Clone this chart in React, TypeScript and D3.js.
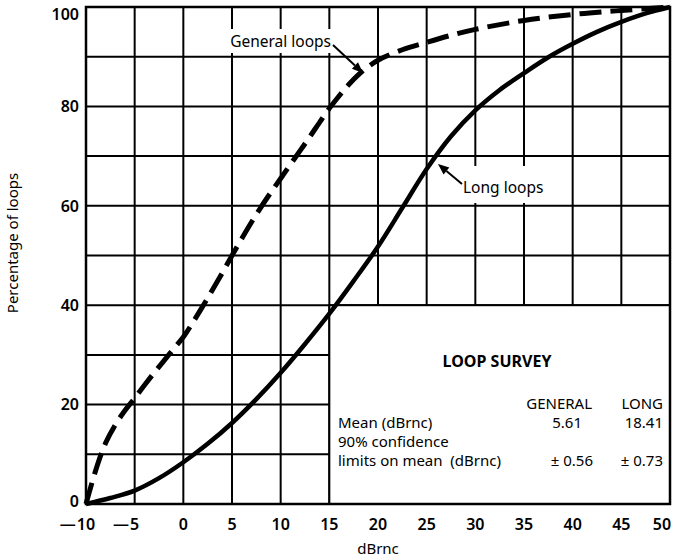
import React from "react";
import * as d3 from "d3";

// ---- data ----
const xTicks = [-10, -5, 0, 5, 10, 15, 20, 25, 30, 35, 40, 45, 50];
const xTickLabels = ["10", "5", "0", "5", "10", "15", "20", "25", "30", "35", "40", "45", "50"];
const xTickNegative = [true, true, false, false, false, false, false, false, false, false, false, false, false];
const yTicks = [0, 20, 40, 60, 80, 100];
const yGridValues = [10, 20, 30, 40, 50, 60, 70, 80, 90];
const xGridValues = [-5, 0, 5, 10, 15, 20, 25, 30, 35, 40, 45];

const generalX = [-10, -9, -8, -7, -6, -5, -4, -3, -2, -1, 0, 1, 2, 3, 4, 5, 6, 7, 8, 9, 10, 11, 12, 13, 14, 15, 16, 17, 18, 19, 20, 22.5, 25, 27.5, 30, 35, 40, 45, 50];
const generalY = [0, 6.8, 12.2, 15.9, 18.8, 21.3, 23.9, 26.4, 28.8, 31.2, 33.6, 36.6, 39.8, 43.1, 46.5, 50, 53.4, 56.7, 59.8, 62.7, 65.5, 68.3, 71.1, 73.9, 76.8, 79.6, 82.1, 84.4, 86.4, 88, 89.3, 91.4, 92.9, 94.3, 95.5, 97.3, 98.5, 99.3, 100];

const longX = [-10, -7.5, -5, -2.5, 0, 2.5, 5, 7.5, 10, 12.5, 15, 17.5, 20, 22.5, 25, 27.5, 30, 32.5, 35, 37.5, 40, 42.5, 45, 47.5, 50];
const longY = [0, 1.2, 2.7, 5.2, 8.4, 12.1, 16.3, 21.1, 26.4, 32.2, 38.3, 44.9, 51.8, 59.6, 67.4, 74.0, 79.2, 83.3, 86.7, 89.9, 92.6, 95, 97, 98.7, 100];

const surveyTitle = "LOOP SURVEY";
const surveyHeaders = ["GENERAL", "LONG"];
const rowLabels = ["Mean (dBrnc)", "90% confidence", "limits on mean\u00A0 (dBrnc)"];
const meanValues = ["5.61", "18.41"];
const confValues = ["\u00B1 0.56", "\u00B1 0.73"];

const FONT = "'Noto Sans', 'Open Sans', sans-serif";

export default function App() {
  const W = 679, H = 560;
  const x = d3.scaleLinear().domain([-10, 50]).range([86, 670]);
  const y = d3.scaleLinear().domain([0, 100]).range([504, 7]);

  const line = d3
    .line<[number, number]>()
    .x((d) => x(d[0]))
    .y((d) => y(d[1]))
    .curve(d3.curveCatmullRom.alpha(0.5));

  const generalPts = generalX.map((v, i) => [v, generalY[i]] as [number, number]);
  const longPts = longX.map((v, i) => [v, longY[i]] as [number, number]);

  const arrow = (x0: number, y0: number, x1: number, y1: number) => {
    const dx = x1 - x0, dy = y1 - y0;
    const len = Math.hypot(dx, dy);
    const ux = dx / len, uy = dy / len;
    const hl = 11, hw = 4.5;
    const bx = x1 - ux * hl, by = y1 - uy * hl;
    const px = -uy, py = ux;
    return {
      shaft: `M${x0},${y0}L${bx},${by}`,
      head: `M${x1},${y1}L${bx + px * hw},${by + py * hw}L${bx - px * hw},${by - py * hw}Z`,
    };
  };
  const genArrow = arrow(333, 45, 363, 73);
  const longArrow = arrow(462, 184, 438, 164);

  const boxX0 = x(15), boxX1 = x(50), boxY0 = y(40), boxY1 = y(0);
  const textSize = 15;

  return (
    <svg
      width={W}
      height={H}
      style={{ position: "absolute", left: 0, top: 0, background: "#fff" }}
      fontFamily={FONT}
    >
      <rect x={0} y={0} width={W} height={H} fill="#fff" />
      {/* grid */}
      {xGridValues.map((v) => (
        <line key={"vx" + v} x1={x(v)} x2={x(v)} y1={y(0)} y2={y(100)} stroke="#000" strokeWidth={2} />
      ))}
      {yGridValues.map((v) => (
        <line key={"hy" + v} x1={x(-10)} x2={x(50)} y1={y(v)} y2={y(v)} stroke="#000" strokeWidth={2} />
      ))}
      {/* survey box */}
      <rect x={boxX0} y={boxY0} width={boxX1 - boxX0} height={boxY1 - boxY0} fill="#fff" stroke="#000" strokeWidth={2} />
      {/* frame */}
      <rect x={x(-10)} y={y(100)} width={x(50) - x(-10)} height={y(0) - y(100)} fill="none" stroke="#000" strokeWidth={2.5} />

      {/* label backgrounds */}
      <rect x={226} y={29} width={109} height={24} fill="#fff" />
      <rect x={456} y={166} width={92} height={37} fill="#fff" />

      {/* curves */}
      <path d={line(longPts) || ""} fill="none" stroke="#000" strokeWidth={4.5} />
      <path d={line(generalPts) || ""} fill="none" stroke="#000" strokeWidth={5} strokeDasharray="22,9" />

      {/* annotations */}
      <text x={331} y={46.5} textAnchor="end" fontSize={15.5} fill="#000">General loops</text>
      <path d={genArrow.shaft} stroke="#000" strokeWidth={2} />
      <path d={genArrow.head} fill="#000" />
      <text x={463} y={193} textAnchor="start" fontSize={15.5} fill="#000">Long loops</text>
      <path d={longArrow.shaft} stroke="#000" strokeWidth={2} />
      <path d={longArrow.head} fill="#000" />

      {/* y ticks */}
      {yTicks.map((v) => (
        <text key={"yt" + v} x={79} y={v === 100 ? y(v) + 7 : v === 0 ? y(v) - 3 : y(v)} dy="0.36em" textAnchor="end" fontSize={16} fontWeight={600} fill="#000">
          {v}
        </text>
      ))}
      {/* x ticks */}
      {xTicks.map((v, i) => {
        const lbl = xTickLabels[i];
        const half = lbl.length * 16 * 0.572 * 0.5;
        const cx = v === 50 ? x(v) - 8 : x(v);
        return (
          <g key={"xt" + v}>
            <text x={cx} y={530} textAnchor="middle" fontSize={16} fontWeight={600} fill="#000">
              {lbl}
            </text>
            {xTickNegative[i] && (
              <text x={cx - half - 1} y={530} textAnchor="end" fontSize={16} fontWeight={600} fill="#000">
                {"\u2014"}
              </text>
            )}
          </g>
        );
      })}
      <text x={x(20)} y={554} textAnchor="middle" fontSize={15} fill="#000">dBrnc</text>
      <text transform="translate(18,243) rotate(-90)" textAnchor="middle" fontSize={15} fill="#000">
        Percentage of loops
      </text>

      {/* survey text */}
      <text x={497} y={366.5} textAnchor="middle" fontSize={16} fontWeight={700} fill="#000">{surveyTitle}</text>
      <text x={592} y={409} textAnchor="end" fontSize={textSize} fill="#000">{surveyHeaders[0]}</text>
      <text x={663} y={409} textAnchor="end" fontSize={textSize} fill="#000">{surveyHeaders[1]}</text>
      <text x={338} y={428} fontSize={textSize} fill="#000">{rowLabels[0]}</text>
      <text x={582} y={428} textAnchor="end" fontSize={textSize} fill="#000">{meanValues[0]}</text>
      <text x={663} y={428} textAnchor="end" fontSize={textSize} fill="#000">{meanValues[1]}</text>
      <text x={338} y={447} fontSize={textSize} fill="#000">{rowLabels[1]}</text>
      <text x={338} y={466} fontSize={textSize} fill="#000">{rowLabels[2]}</text>
      <text x={593} y={466} textAnchor="end" fontSize={textSize} fill="#000">{confValues[0]}</text>
      <text x={663} y={466} textAnchor="end" fontSize={textSize} fill="#000">{confValues[1]}</text>
    </svg>
  );
}
